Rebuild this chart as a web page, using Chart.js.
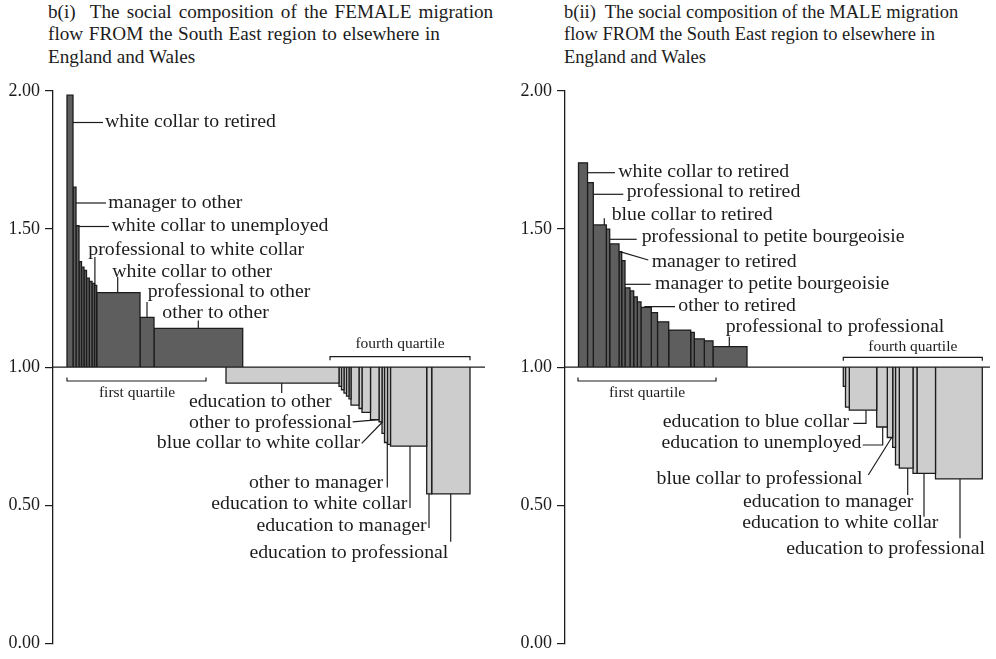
<!DOCTYPE html>
<html>
<head>
<meta charset="utf-8">
<script src="https://cdn.jsdelivr.net/npm/chart.js@4.4.1/dist/chart.umd.min.js"></script>
<style>
html,body{margin:0;padding:0;background:#fff;}
body{width:996px;height:659px;position:relative;overflow:hidden;font-family:"Liberation Serif","Times New Roman",serif;color:#1c1c1c;}
.title{position:absolute;white-space:pre;}
.title div{display:block;}
.t1{top:0.6px;font-size:19.2px;line-height:22.5px;}
.t2{top:1px;font-size:18.5px;line-height:22.4px;}
.wrap{position:absolute;top:0;height:659px;}
canvas{display:block;}
</style>
</head>
<body>
<div class="title t1" style="left:48px"><div style="word-spacing:2.4px">b(i)  The social composition of the FEMALE migration</div><div style="word-spacing:0.9px">flow FROM the South East region to elsewhere in</div><div>England and Wales</div></div>
<div class="title t2" style="left:564px"><div>b(ii)  The social composition of the MALE migration</div><div>flow FROM the South East region to elsewhere in</div><div>England and Wales</div></div>
<div class="wrap" style="left:0;width:498px"><canvas id="c1"></canvas></div>
<div class="wrap" style="left:512px;width:484px"><canvas id="c2"></canvas></div>
<script>
// ---------------- DATA ----------------
const BASE = 1.0;
const yTickValues = [0, 0.5, 1, 1.5, 2];

// FEMALE flow: over-represented groups (above 1.00) - widths = share of flow, values = ratio
const femaleAboveStart = 14;
const femaleAboveWidths = [6, 3, 3, 2.5, 2.5, 2.5, 2.8, 2.7, 2.5, 2.2, 43.3, 14, 88.7];
const femaleAboveValues = [1.985, 1.652, 1.512, 1.382, 1.362, 1.35, 1.322, 1.31, 1.303, 1.296, 1.27, 1.18, 1.14];
// FEMALE flow: under-represented groups (below 1.00)
const femaleBelowStart = 173;
const femaleBelowWidths = [113, 2.5, 2.5, 2.5, 2.5, 2, 8, 3, 8.5, 8.5, 3, 2.5, 3, 3, 36.2, 5, 38.3];
const femaleBelowValues = [0.942, 0.93, 0.918, 0.906, 0.895, 0.885, 0.862, 0.85, 0.836, 0.81, 0.802, 0.76, 0.727, 0.72, 0.714, 0.541, 0.541];

// MALE flow: over-represented groups
const maleAboveStart = 13.5;
const maleAboveWidths = [9, 5.8, 13, 3.4, 9.3, 2.7, 3.3, 5, 3.7, 3.6, 3.7, 10.3, 6.2, 11.2, 22, 3.6, 10, 8.7, 34];
const maleAboveValues = [1.74, 1.668, 1.515, 1.50, 1.446, 1.418, 1.386, 1.287, 1.276, 1.254, 1.236, 1.216, 1.197, 1.164, 1.134, 1.126, 1.102, 1.095, 1.074];
// MALE flow: under-represented groups
const maleBelowStart = 278.3;
const maleBelowWidths = [2.2, 3.8, 27.4, 10.6, 5.4, 2.8, 3.8, 13.7, 4, 18.5, 46.8];
const maleBelowValues = [0.93, 0.855, 0.844, 0.783, 0.745, 0.709, 0.646, 0.634, 0.615, 0.615, 0.595];

// category labels (group, bar index, text)
const femaleLabels = [
  ['a', 0, 'white collar to retired'],
  ['a', 1, 'manager to other'],
  ['a', 2, 'white collar to unemployed'],
  ['a', 9, 'professional to white collar'],
  ['a', 10, 'white collar to other'],
  ['a', 11, 'professional to other'],
  ['a', 12, 'other to other'],
  ['b', 0, 'education to other'],
  ['b', 9, 'other to professional'],
  ['b', 10, 'blue collar to white collar'],
  ['b', 12, 'other to manager'],
  ['b', 14, 'education to white collar'],
  ['b', 15, 'education to manager'],
  ['b', 16, 'education to professional']
];
const maleLabels = [
  ['a', 0, 'white collar to retired'],
  ['a', 1, 'professional to retired'],
  ['a', 2, 'blue collar to retired'],
  ['a', 3, 'professional to petite bourgeoisie'],
  ['a', 5, 'manager to retired'],
  ['a', 6, 'manager to petite bourgeoisie'],
  ['a', 11, 'other to retired'],
  ['a', 18, 'professional to professional'],
  ['b', 2, 'education to blue collar'],
  ['b', 3, 'education to unemployed'],
  ['b', 4, 'blue collar to professional'],
  ['b', 7, 'education to manager'],
  ['b', 9, 'education to white collar'],
  ['b', 10, 'education to professional']
];
const quartileNames = ['first quartile', 'fourth quartile'];

// ---------------- LAYOUT / STYLE ----------------
const INK = '#1c1c1c';
const DARK = '#5e5e5e';
const LIGHT = '#cdcdcd';
const LABEL_FONT = '19.8px "Liberation Serif"';
const SMALL_FONT = '15.5px "Liberation Serif"';

// leader layout per label (page pixels): from = 'right' (attach to bar right edge) or 'end' (attach to bar top/bottom)
const femaleLeaders = [
  {from:'right', pts:[[0,122.5],[103,122.5]], lx:105, ly:121.7, al:'left'},
  {from:'right', pts:[[0,203],[106,203]], lx:108.3, ly:203, al:'left'},
  {from:'right', pts:[[0,226.5],[109,226.5]], lx:111.5, ly:225.7, al:'left'},
  {from:'end', pts:[[94.9,0],[94.9,257]], lx:88.3, ly:250, al:'left'},
  {from:'end', pts:[[117.7,0],[117.7,277]], lx:112.3, ly:271.7, al:'left'},
  {from:'end', pts:[[147,0],[147,302]], lx:147.7, ly:291.7, al:'left'},
  {from:'end', pts:[[198.3,0],[198.3,320.5]], lx:162.3, ly:313.3, al:'left'},
  {from:'end', pts:[[281.7,0],[281.7,393]], lx:331.7, ly:401.7, al:'right'},
  {from:'end', pts:[[379,0],[352.7,421.8]], lx:351.7, ly:422.7, al:'right'},
  {from:'end', pts:[[382.7,0],[361.7,443.3]], lx:360, ly:442.7, al:'right'},
  {from:'end', pts:[[387.3,0],[387.3,487.5]], lx:383, ly:482.7, al:'right'},
  {from:'end', pts:[[410,0],[410,508]], lx:407.3, ly:504, al:'right'},
  {from:'end', pts:[[429,0],[429,528]], lx:426.7, ly:525.7, al:'right'},
  {from:'end', pts:[[450.7,0],[450.7,541.7]], lx:448.3, ly:553, al:'right'}
];
const maleLeaders = [
  {from:'right', pts:[[0,172.7],[615,172.7]], lx:618.3, ly:171.7, al:'left'},
  {from:'right', pts:[[0,194.3],[623.3,194.3]], lx:626.7, ly:191.7, al:'left'},
  {from:'end', pts:[[604.3,0],[604.3,218.3]], lx:611.7, ly:215, al:'left'},
  {from:'right', pts:[[0,239.3],[636.7,239.3]], lx:641.7, ly:236.7, al:'left'},
  {from:'end', pts:[[619.8,0],[648.3,260]], lx:651.7, ly:261.7, al:'left'},
  {from:'right', pts:[[0,284.3],[650.7,284.3]], lx:655, ly:284, al:'left'},
  {from:'end', pts:[[645,0],[645,306.7],[675,306.7]], lx:678.3, ly:305.7, al:'left'},
  {from:'end', pts:[[729.3,0],[729.3,336.7]], lx:725.7, ly:326.7, al:'left'},
  {from:'end', pts:[[866,0],[866,423.3],[853.3,423.3]], lx:849, ly:421.7, al:'right'},
  {from:'end', pts:[[882.7,0],[882.7,445],[862.7,445]], lx:861.5, ly:443.3, al:'right'},
  {from:'end', pts:[[891.7,0],[868.3,475]], lx:862.5, ly:479.3, al:'right'},
  {from:'end', pts:[[907.7,0],[907.7,495]], lx:913.3, ly:502.3, al:'right'},
  {from:'end', pts:[[924,0],[924,516.7]], lx:938.3, ly:523.3, al:'right'},
  {from:'end', pts:[[960,0],[960,538.3]], lx:985, ly:549.3, al:'right'}
];
const femaleBrackets = [
  {x0:67, x1:206, y:381, d:-3.5, lx:137, ly:393},
  {x0:330, x1:470, y:356.7, d:3.5, lx:400, ly:344.3}
];
const maleBrackets = [
  {x0:578, x1:716, y:381, d:-3.5, lx:647, ly:393},
  {x0:843.3, x1:982.3, y:357.3, d:3.5, lx:912.8, ly:346.7}
];

// ---------------- BUILD ----------------
function geom(start, widths, values) {
  let x = start;
  return widths.map((w, i) => { const g = {x0:x, x1:x + w, v:values[i]}; x += w; return g; });
}
function barSets(g, color) {
  return g.map(b => ({
    data: [{x:b.x0, y:BASE}, {x:b.x0, y:b.v}, {x:b.x1, y:b.v}, {x:b.x1, y:BASE}],
    showLine: true, fill: {value: BASE}, backgroundColor: color,
    borderColor: INK, borderWidth: 1.3, pointRadius: 0, pointHoverRadius: 0, tension: 0
  }));
}
function annotPlugin(panel) {
  return {
    id: 'annot',
    afterDatasetsDraw(chart) {
      const ctx = chart.ctx, xs = chart.scales.x, ys = chart.scales.y, off = panel.offset;
      ctx.save();
      ctx.strokeStyle = INK; ctx.fillStyle = INK; ctx.lineWidth = 1.2;
      ctx.font = LABEL_FONT; ctx.textBaseline = 'middle';
      panel.labels.forEach((lab, k) => {
        const L = panel.leaders[k];
        const bar = panel.geom[lab[0]][lab[1]];
        const pts = L.pts.map(p => [p[0] - off, p[1]]);
        if (L.from === 'right') pts[0][0] = xs.getPixelForValue(bar.x1);
        else pts[0][1] = ys.getPixelForValue(bar.v);
        ctx.beginPath();
        ctx.moveTo(pts[0][0], pts[0][1]);
        for (let i = 1; i < pts.length; i++) ctx.lineTo(pts[i][0], pts[i][1]);
        ctx.stroke();
        ctx.textAlign = L.al;
        ctx.fillText(lab[2], L.lx - off, L.ly);
      });
      ctx.font = SMALL_FONT; ctx.textAlign = 'center';
      panel.brackets.forEach((b, k) => {
        ctx.beginPath();
        ctx.moveTo(b.x0 - off, b.y + b.d); ctx.lineTo(b.x0 - off, b.y);
        ctx.lineTo(b.x1 - off, b.y); ctx.lineTo(b.x1 - off, b.y + b.d);
        ctx.stroke();
        ctx.fillText(quartileNames[k], b.lx - off, b.ly);
      });
      ctx.restore();
    }
  };
}
function makeChart(id, panel) {
  const datasets = [
    {data:[{x:0, y:BASE}, {x:panel.baseEnd, y:BASE}], showLine:true, fill:false, borderColor:INK, borderWidth:1.3, pointRadius:0, pointHoverRadius:0}
  ].concat(barSets(panel.geom.a, DARK), barSets(panel.geom.b, LIGHT));
  return new Chart(document.getElementById(id), {
    type: 'scatter',
    data: {datasets},
    options: {
      responsive: true, maintainAspectRatio: false, animation: false, events: [],
      layout: {padding: {top: 91, bottom: 12, left: 0, right: 0}},
      plugins: {legend: {display: false}, tooltip: {enabled: false}, title: {display: false}},
      scales: {
        x: {type: 'linear', display: false, min: 0, max: panel.xMax},
        y: {
          type: 'linear', min: 0, max: 2,
          afterFit(s) { s.width = 53; },
          afterBuildTicks(s) { s.ticks = yTickValues.map(v => ({value: v})); },
          ticks: {callback: v => Number(v).toFixed(2), font: {family: 'Liberation Serif', size: 18}, color: INK, padding: 5},
          grid: {display: true, drawOnChartArea: false, drawTicks: true, tickLength: 8, color: INK, lineWidth: 1.2},
          border: {display: true, color: INK, width: 1.3}
        }
      }
    },
    plugins: [annotPlugin(panel)]
  });
}

const femalePanel = {
  offset: 0, xMax: 445, baseEnd: 432,
  geom: {a: geom(femaleAboveStart, femaleAboveWidths, femaleAboveValues), b: geom(femaleBelowStart, femaleBelowWidths, femaleBelowValues)},
  labels: femaleLabels, leaders: femaleLeaders, brackets: femaleBrackets
};
const malePanel = {
  offset: 512, xMax: 431, baseEnd: 425,
  geom: {a: geom(maleAboveStart, maleAboveWidths, maleAboveValues), b: geom(maleBelowStart, maleBelowWidths, maleBelowValues)},
  labels: maleLabels, leaders: maleLeaders, brackets: maleBrackets
};
makeChart('c1', femalePanel);
makeChart('c2', malePanel);
</script>
</body>
</html>
